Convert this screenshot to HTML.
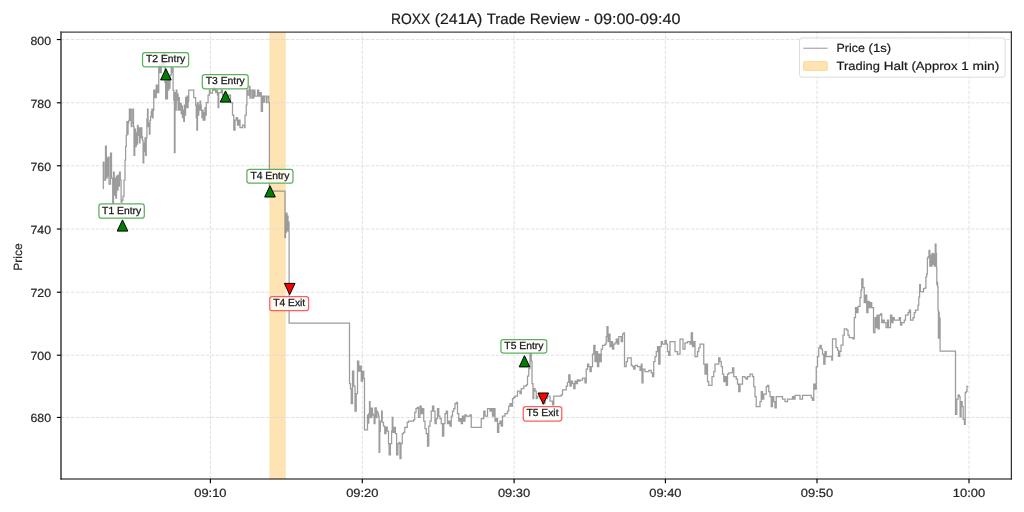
<!DOCTYPE html>
<html><head><meta charset="utf-8"><style>
html,body{margin:0;padding:0;background:#fff;width:1024px;height:512px;overflow:hidden}
svg{display:block;font-family:"Liberation Sans",sans-serif;will-change:transform;text-rendering:geometricPrecision}
</style></head><body>
<svg width="1024" height="512" viewBox="0 0 1024 512">
<rect x="0" y="0" width="1024" height="512" fill="#fff"/>
<rect x="269.4" y="32.1" width="16.4" height="446.9" fill="#ffe4b3"/>
<line x1="210.4" y1="479.0" x2="210.4" y2="32.1" stroke="#d9d9d9" stroke-width="0.8" stroke-dasharray="3.5 1.5"/>
<line x1="362.3" y1="479.0" x2="362.3" y2="32.1" stroke="#d9d9d9" stroke-width="0.8" stroke-dasharray="3.5 1.5"/>
<line x1="514.1" y1="479.0" x2="514.1" y2="32.1" stroke="#d9d9d9" stroke-width="0.8" stroke-dasharray="3.5 1.5"/>
<line x1="665.4" y1="479.0" x2="665.4" y2="32.1" stroke="#d9d9d9" stroke-width="0.8" stroke-dasharray="3.5 1.5"/>
<line x1="817.0" y1="479.0" x2="817.0" y2="32.1" stroke="#d9d9d9" stroke-width="0.8" stroke-dasharray="3.5 1.5"/>
<line x1="969.0" y1="479.0" x2="969.0" y2="32.1" stroke="#d9d9d9" stroke-width="0.8" stroke-dasharray="3.5 1.5"/>
<line x1="61.0" y1="39.55" x2="1011.35" y2="39.55" stroke="#d9d9d9" stroke-width="0.8" stroke-dasharray="3.5 1.5"/>
<line x1="61.0" y1="102.80" x2="1011.35" y2="102.80" stroke="#d9d9d9" stroke-width="0.8" stroke-dasharray="3.5 1.5"/>
<line x1="61.0" y1="165.80" x2="1011.35" y2="165.80" stroke="#d9d9d9" stroke-width="0.8" stroke-dasharray="3.5 1.5"/>
<line x1="61.0" y1="229.00" x2="1011.35" y2="229.00" stroke="#d9d9d9" stroke-width="0.8" stroke-dasharray="3.5 1.5"/>
<line x1="61.0" y1="292.20" x2="1011.35" y2="292.20" stroke="#d9d9d9" stroke-width="0.8" stroke-dasharray="3.5 1.5"/>
<line x1="61.0" y1="355.20" x2="1011.35" y2="355.20" stroke="#d9d9d9" stroke-width="0.8" stroke-dasharray="3.5 1.5"/>
<line x1="61.0" y1="417.45" x2="1011.35" y2="417.45" stroke="#d9d9d9" stroke-width="0.8" stroke-dasharray="3.5 1.5"/>
<path d="M103.00 188.50H103.30V162.00H104.00V180.00H105.50V146.00H106.30V178.00H107.00V158.00H107.60V176.00H108.20V157.00H109.00V184.00H110.50V153.00H111.50V178.00H112.70V203.00H113.50V172.00H114.20V195.00H115.00V178.00H115.80V198.00H116.50V176.00H117.30V190.00H118.00V175.00H118.80V186.00H119.50V172.00H120.30V180.00H121.10V202.00H122.00V200.00H123.00V196.00H124.00V180.00H125.00V160.00H125.60V146.50H126.25V135.25H126.90V121.50H127.50V134.00H128.10V122.75H128.75V120.25H129.40V109.00H130.00V120.25H130.60V109.00H131.25V126.50H131.90V122.75H132.75V109.00H133.50V126.50H134.00V155.25H134.75V129.00H135.60V146.50H136.25V132.75H136.90V144.00H137.50V125.25H138.10V135.25H138.75V127.75H139.40V142.75H140.00V127.75H140.60V137.75H141.25V127.75H141.90V136.50H142.50V140.25H143.10V162.75H143.75V142.75H144.40V151.50H145.00V137.75H145.60V155.25H146.25V137.75H146.90V119.00H147.50V109.00H148.10V126.50H148.75V122.75H149.40V134.00H150.00V120.25H150.60V116.50H151.25V111.50H151.90V109.00H152.50V117.75H153.10V110.25H153.75V90.00H155.00V97.50H156.25V85.00H157.50V92.50H158.75V65.00H160.00V72.50H161.25V55.00H162.50V65.00H163.75V52.50H165.00V82.50H165.60V98.75H166.25V81.00H166.90V98.75H167.50V80.00H168.10V90.00H168.75V80.00H169.40V88.00H170.00V75.00H171.25V67.50H172.00V72.50H172.50V68.00H173.10V90.00H173.75V100.00H174.40V152.50H175.00V92.50H175.60V110.00H176.25V90.00H176.90V100.00H177.50V93.75H178.10V110.00H178.75V97.50H179.40V110.00H180.00V103.00H180.60V103.75H181.25V113.75H181.90V106.00H182.50V117.50H183.10V110.00H183.75V121.25H184.40V105.00H185.00V115.00H185.60V97.50H186.25V107.50H186.90V96.00H187.50V107.50H188.10V101.00H188.75V90.00H193.10V90.00H193.75V97.50H195.00V97.50H195.60V105.00H196.25V117.50H196.90V130.00H197.50V102.50H198.10V115.00H198.75V105.00H199.40V110.00H200.00V101.00H200.60V105.00H201.25V110.00H201.90V117.50H202.50V110.00H203.10V120.00H203.75V112.50H204.40V120.00H205.00V107.50H205.60V115.00H206.25V102.50H207.00V102.50H208.10V95.00H209.40V90.00H210.00V93.00H212.50V90.00H213.75V87.50H215.00V90.00H215.60V92.50H216.90V90.00H217.50V95.00H218.10V107.50H218.75V92.50H220.00V92.50H221.25V90.00H222.50V95.00H225.00V97.50H228.75V95.00H230.50V102.50H232.50V115.00H233.75V130.00H235.00V120.00H236.25V117.50H237.50V125.00H238.75V120.00H240.00V127.50H242.50V125.00H244.40V127.50H245.00V115.00H246.25V105.00H246.90V90.00H248.00V95.00H249.40V86.25H250.00V98.00H251.00V90.00H252.50V98.00H253.75V90.00H255.00V96.00H257.50V90.00H258.75V96.00H260.00V92.50H261.25V111.25H262.50V96.00H263.50V102.00H264.40V96.00H266.25V102.50H267.00V97.00H268.10V96.00H268.75V102.50H269.40V102.50H269.40V191.00H285.00V191.00H285.00V237.50H285.50V214.00H286.00V232.00H286.50V213.00H287.00V230.00H287.50V216.00H288.00V231.00H288.50V222.00H289.00V232.00H289.10V323.10H349.10V323.10H349.50V383.50H350.50V388.50H351.25V403.50H352.50V371.00H353.75V386.00H355.00V411.00H356.25V393.50H357.50V361.00H358.75V371.00H360.00V366.00H361.25V381.00H362.50V371.00H363.75V378.50H364.50V429.75H367.25V429.75H367.50V415.00H368.00V423.00H368.75V413.50H369.50V401.60H370.10V417.50H370.60V408.00H371.25V417.00H371.90V408.00H372.50V414.00H373.10V415.00H374.10V423.50H375.00V408.00H375.40V407.90H376.25V417.50H376.90V411.00H377.50V413.00H378.50V416.00H379.10V452.25H379.75V431.00H380.40V421.00H381.60V411.00H382.25V422.25H383.50V426.00H384.75V433.50H386.00V427.00H387.25V431.00H388.50V443.50H389.10V454.75H390.40V443.50H391.60V431.00H392.25V417.25H392.90V432.25H394.10V427.25H395.40V433.50H396.60V454.75H397.90V443.50H399.10V442.25H400.00V458.50H401.00V443.50H402.25V433.50H403.50V432.25H404.75V427.25H406.00V427.25H407.25V422.25H408.50V421.00H411.00V421.00H413.50V419.75H414.75V412.25H416.00V408.50H417.25V407.25H418.50V417.25H420.00V406.00H421.25V413.50H422.50V408.50H423.75V421.00H425.00V428.50H426.25V433.50H427.50V446.00H428.75V426.00H430.00V421.00H431.25V411.00H432.50V406.00H433.75V411.00H435.00V423.50H436.25V418.50H437.50V408.50H438.75V416.00H440.00V418.50H441.25V423.50H442.50V436.00H443.75V423.50H445.00V413.50H446.25V411.00H447.50V423.50H448.75V421.00H450.00V426.00H451.25V416.00H452.50V411.00H453.75V408.50H455.00V403.50H456.25V402.25H457.50V413.50H458.75V421.00H460.00V418.50H461.25V423.50H462.50V416.00H463.75V421.00H465.00V414.75H466.25V416.00H470.00V414.75H471.25V427.25H480.00V427.25H481.25V418.50H483.75V411.00H485.00V416.00H487.50V408.50H490.00V411.00H491.25V408.50H492.50V416.00H493.75V408.50H495.00V421.00H496.25V418.50H497.50V432.25H498.75V423.50H500.00V421.00H501.25V426.00H502.50V416.00H505.00V413.50H507.50V411.00H508.75V406.00H510.00V403.50H511.25V406.00H512.50V398.50H513.75V397.25H515.00V396.00H517.50V391.00H520.00V393.50H521.25V388.50H523.75V386.00H526.25V384.75H527.50V376.00H528.75V368.50H530.00V353.50H531.25V361.00H532.00V383.50H533.00V398.50H533.75V388.50H535.00V391.00H536.25V398.50H537.50V396.00H540.00V398.50H542.50V403.50H545.00V398.50H547.50V396.00H550.00V401.00H552.50V404.75H553.75V396.00H555.00V396.00H561.25V394.75H562.50V389.75H565.00V389.75H566.25V386.00H567.50V382.25H568.75V374.75H570.00V386.00H571.25V381.00H572.50V383.50H573.75V388.50H575.00V381.00H576.25V383.50H577.50V379.75H578.75V381.00H580.00V380.00H582.50V378.00H585.00V382.75H586.25V369.00H587.50V364.00H588.75V366.50H590.00V371.50H591.25V366.50H592.50V354.00H593.75V345.25H595.00V361.50H596.25V351.50H597.50V366.50H598.75V354.00H600.00V361.50H601.25V349.00H602.50V345.25H605.00V344.00H606.25V336.50H607.00V326.50H608.00V341.50H608.75V334.00H610.00V346.50H611.25V341.50H612.50V349.00H613.75V344.00H615.00V342.75H616.25V339.00H617.50V344.00H618.75V336.50H621.25V341.50H622.50V334.00H623.75V332.75H624.50V366.50H626.25V361.50H627.50V357.75H630.00V357.75H631.25V365.25H632.50V366.50H633.75V369.00H635.00V365.25H637.50V366.50H640.00V370.25H641.25V364.00H642.00V382.75H643.00V369.00H645.00V371.50H648.75V370.25H651.25V372.75H652.50V376.50H653.75V361.50H655.00V356.50H656.25V351.50H657.50V346.50H658.75V364.00H660.00V346.50H661.25V341.50H662.50V344.00H665.00V340.25H666.25V344.00H667.50V351.50H668.75V355.25H670.00V341.50H673.75V341.50H675.00V351.50H677.50V354.00H680.00V339.00H682.50V339.00H683.00V349.00H685.00V342.75H687.50V341.50H690.00V344.00H691.25V332.75H692.50V346.50H693.75V341.50H695.00V356.50H697.50V351.50H698.75V347.75H700.00V344.00H702.50V344.00H703.75V364.00H705.00V374.00H706.25V364.00H707.50V381.50H708.75V385.25H711.25V385.25H712.00V376.50H713.75V371.50H715.00V364.00H717.50V364.00H718.75V357.75H720.00V361.50H721.25V366.50H722.50V374.00H723.75V381.50H725.00V376.50H726.25V385.25H727.50V374.00H728.75V372.75H731.25V372.75H732.50V367.75H733.75V376.50H736.25V379.00H737.50V384.00H738.75V391.50H740.00V384.00H742.50V376.50H745.00V377.75H746.25V379.00H747.50V376.50H750.00V374.00H751.25V374.00H752.50V376.50H753.75V386.50H755.00V396.50H756.25V406.50H758.75V406.50H760.00V401.50H761.25V391.50H762.50V399.00H763.75V394.00H766.25V386.50H767.50V385.25H768.75V391.50H770.00V396.50H771.25V406.50H772.50V396.50H773.75V401.50H775.00V407.75H776.25V396.50H780.00V396.50H782.50V399.00H785.00V401.50H787.50V399.00H792.50V396.50H793.75V399.00H795.00V395.25H800.00V399.00H802.50V395.25H811.25V397.75H812.50V400.25H813.75V384.00H815.00V389.00H816.25V366.50H817.50V356.50H818.75V347.75H820.00V345.25H821.25V349.00H822.50V354.00H823.75V364.00H825.00V351.50H826.25V356.50H827.50V356.50H830.00V356.25H831.75V360.00H832.50V338.75H835.00V338.75H836.00V347.50H837.50V350.00H838.50V356.25H839.75V351.25H841.00V345.00H843.00V335.00H844.25V328.75H846.75V330.00H848.00V335.00H849.25V337.50H853.00V338.75H854.25V317.50H855.50V307.50H856.75V312.50H858.00V306.25H859.25V306.25H860.00V297.50H861.00V290.00H861.75V278.75H863.00V287.50H864.25V302.50H865.50V295.00H866.75V312.50H868.00V301.25H869.25V307.50H870.50V302.50H871.75V307.50H873.00V307.50H873.50V332.50H875.00V317.50H876.00V327.50H877.00V315.00H878.00V328.75H879.25V315.00H880.50V313.75H881.75V322.50H883.00V320.00H884.25V322.50H886.00V327.50H887.50V320.00H888.50V327.50H890.50V315.00H891.75V322.50H893.00V317.50H894.25V320.00H898.00V320.00H899.25V317.50H900.50V325.00H901.75V322.50H904.25V320.00H905.50V315.00H908.00V312.50H909.25V310.00H910.50V320.00H913.00V317.50H914.25V312.50H915.50V310.00H916.75V310.00H918.00V305.00H918.80V297.20H919.60V284.70H920.40V291.70H922.75V291.70H923.50V288.60H925.00V287.80H925.90V276.90H926.70V273.75H927.40V258.00H928.20V256.60H929.00V250.30H929.80V266.00H930.60V255.00H931.30V266.00H932.10V253.40H932.90V264.40H933.70V254.20H934.50V266.00H935.25V244.00H936.00V253.40H936.50V267.50H936.80V284.70H937.10V282.00H937.60V286.50H938.00V310.00H938.40V338.00H938.80V312.00H939.20V336.00H939.60V318.00H940.10V351.00H955.50V351.00H955.50V414.30H956.80V399.00H958.10V395.20H959.40V396.50H960.10V416.80H961.10V401.60H962.20V406.70H963.20V419.40H964.40V424.40H965.20V392.70H966.20V391.40H967.00V386.30H968.30V386.30" fill="none" stroke="#808080" stroke-opacity="0.78" stroke-width="1.25" stroke-linejoin="miter" stroke-miterlimit="2"/>
<line x1="61.0" y1="31.5" x2="61.0" y2="479.6" stroke="#000" stroke-width="1.15"/>
<line x1="60.4" y1="479.0" x2="1011.95" y2="479.0" stroke="#000" stroke-width="1.15"/>
<line x1="60.4" y1="32.1" x2="1011.95" y2="32.1" stroke="#444" stroke-width="1.15"/>
<line x1="1011.35" y1="31.5" x2="1011.35" y2="479.6" stroke="#222" stroke-width="1.15"/>
<line x1="210.4" y1="479.0" x2="210.4" y2="483.15" stroke="#000" stroke-width="1.15"/>
<text x="210.4" y="496.7" font-size="11.9" text-anchor="middle" fill="#262626" stroke="#262626" stroke-width="0.22" textLength="32.3" lengthAdjust="spacingAndGlyphs">09:10</text>
<line x1="362.3" y1="479.0" x2="362.3" y2="483.15" stroke="#000" stroke-width="1.15"/>
<text x="362.3" y="496.7" font-size="11.9" text-anchor="middle" fill="#262626" stroke="#262626" stroke-width="0.22" textLength="32.3" lengthAdjust="spacingAndGlyphs">09:20</text>
<line x1="514.1" y1="479.0" x2="514.1" y2="483.15" stroke="#000" stroke-width="1.15"/>
<text x="514.1" y="496.7" font-size="11.9" text-anchor="middle" fill="#262626" stroke="#262626" stroke-width="0.22" textLength="32.3" lengthAdjust="spacingAndGlyphs">09:30</text>
<line x1="665.4" y1="479.0" x2="665.4" y2="483.15" stroke="#000" stroke-width="1.15"/>
<text x="665.4" y="496.7" font-size="11.9" text-anchor="middle" fill="#262626" stroke="#262626" stroke-width="0.22" textLength="32.3" lengthAdjust="spacingAndGlyphs">09:40</text>
<line x1="817.0" y1="479.0" x2="817.0" y2="483.15" stroke="#000" stroke-width="1.15"/>
<text x="817.0" y="496.7" font-size="11.9" text-anchor="middle" fill="#262626" stroke="#262626" stroke-width="0.22" textLength="32.3" lengthAdjust="spacingAndGlyphs">09:50</text>
<line x1="969.0" y1="479.0" x2="969.0" y2="483.15" stroke="#000" stroke-width="1.15"/>
<text x="969.0" y="496.7" font-size="11.9" text-anchor="middle" fill="#262626" stroke="#262626" stroke-width="0.22" textLength="32.3" lengthAdjust="spacingAndGlyphs">10:00</text>
<line x1="61.0" y1="39.55" x2="56.85" y2="39.55" stroke="#000" stroke-width="1.15"/>
<text x="51.0" y="44.55" font-size="11.9" text-anchor="end" fill="#262626" stroke="#262626" stroke-width="0.22" textLength="20.5" lengthAdjust="spacingAndGlyphs">800</text>
<line x1="61.0" y1="102.80" x2="56.85" y2="102.80" stroke="#000" stroke-width="1.15"/>
<text x="51.0" y="107.80" font-size="11.9" text-anchor="end" fill="#262626" stroke="#262626" stroke-width="0.22" textLength="20.5" lengthAdjust="spacingAndGlyphs">780</text>
<line x1="61.0" y1="165.80" x2="56.85" y2="165.80" stroke="#000" stroke-width="1.15"/>
<text x="51.0" y="170.80" font-size="11.9" text-anchor="end" fill="#262626" stroke="#262626" stroke-width="0.22" textLength="20.5" lengthAdjust="spacingAndGlyphs">760</text>
<line x1="61.0" y1="229.00" x2="56.85" y2="229.00" stroke="#000" stroke-width="1.15"/>
<text x="51.0" y="234.00" font-size="11.9" text-anchor="end" fill="#262626" stroke="#262626" stroke-width="0.22" textLength="20.5" lengthAdjust="spacingAndGlyphs">740</text>
<line x1="61.0" y1="292.20" x2="56.85" y2="292.20" stroke="#000" stroke-width="1.15"/>
<text x="51.0" y="297.20" font-size="11.9" text-anchor="end" fill="#262626" stroke="#262626" stroke-width="0.22" textLength="20.5" lengthAdjust="spacingAndGlyphs">720</text>
<line x1="61.0" y1="355.20" x2="56.85" y2="355.20" stroke="#000" stroke-width="1.15"/>
<text x="51.0" y="360.20" font-size="11.9" text-anchor="end" fill="#262626" stroke="#262626" stroke-width="0.22" textLength="20.5" lengthAdjust="spacingAndGlyphs">700</text>
<line x1="61.0" y1="417.45" x2="56.85" y2="417.45" stroke="#000" stroke-width="1.15"/>
<text x="51.0" y="422.45" font-size="11.9" text-anchor="end" fill="#262626" stroke="#262626" stroke-width="0.22" textLength="20.5" lengthAdjust="spacingAndGlyphs">680</text>
<text transform="translate(22.3,257) rotate(-90)" x="0" y="0" font-size="11.9" text-anchor="middle" fill="#262626" stroke="#262626" stroke-width="0.2" textLength="27.3" lengthAdjust="spacingAndGlyphs">Price</text>
<text x="391.00" y="24.30" font-size="15.0" fill="#1a1a1a" stroke="#1a1a1a" stroke-width="0.2" textLength="39.28" lengthAdjust="spacingAndGlyphs">ROXX</text>
<text x="434.76" y="24.30" font-size="15.0" fill="#1a1a1a" stroke="#1a1a1a" stroke-width="0.2" textLength="47.52" lengthAdjust="spacingAndGlyphs">(241A)</text>
<text x="486.71" y="24.30" font-size="15.0" fill="#1a1a1a" stroke="#1a1a1a" stroke-width="0.2" textLength="38.62" lengthAdjust="spacingAndGlyphs">Trade</text>
<text x="529.80" y="24.30" font-size="15.0" fill="#1a1a1a" stroke="#1a1a1a" stroke-width="0.2" textLength="50.27" lengthAdjust="spacingAndGlyphs">Review</text>
<text x="584.55" y="24.30" font-size="15.0" fill="#1a1a1a" stroke="#1a1a1a" stroke-width="0.2" textLength="5.09" lengthAdjust="spacingAndGlyphs">-</text>
<text x="594.11" y="24.30" font-size="15.0" fill="#1a1a1a" stroke="#1a1a1a" stroke-width="0.2" textLength="86.29" lengthAdjust="spacingAndGlyphs">09:00-09:40</text>
<rect x="98.90" y="203.90" width="45.40" height="14.30" rx="2.5" ry="2.5" fill="#fff" fill-opacity="0.8" stroke="#5cb05c" stroke-width="1.25"/>
<text x="121.60" y="213.55" font-size="10.2" text-anchor="middle" fill="#1a1a1a" stroke="#1a1a1a" stroke-width="0.28" textLength="39.0" lengthAdjust="spacingAndGlyphs">T1 Entry</text>
<rect x="142.55" y="52.60" width="46.05" height="14.15" rx="2.5" ry="2.5" fill="#fff" fill-opacity="0.8" stroke="#5cb05c" stroke-width="1.25"/>
<text x="165.57" y="62.17" font-size="10.2" text-anchor="middle" fill="#1a1a1a" stroke="#1a1a1a" stroke-width="0.28" textLength="39.0" lengthAdjust="spacingAndGlyphs">T2 Entry</text>
<rect x="202.30" y="74.60" width="45.90" height="14.15" rx="2.5" ry="2.5" fill="#fff" fill-opacity="0.8" stroke="#5cb05c" stroke-width="1.25"/>
<text x="225.25" y="84.17" font-size="10.2" text-anchor="middle" fill="#1a1a1a" stroke="#1a1a1a" stroke-width="0.28" textLength="39.0" lengthAdjust="spacingAndGlyphs">T3 Entry</text>
<rect x="246.90" y="169.40" width="46.10" height="13.80" rx="2.5" ry="2.5" fill="#fff" fill-opacity="0.8" stroke="#5cb05c" stroke-width="1.25"/>
<text x="269.95" y="178.80" font-size="10.2" text-anchor="middle" fill="#1a1a1a" stroke="#1a1a1a" stroke-width="0.28" textLength="39.0" lengthAdjust="spacingAndGlyphs">T4 Entry</text>
<rect x="269.75" y="296.70" width="38.85" height="14.00" rx="2.5" ry="2.5" fill="#fff" fill-opacity="0.8" stroke="#ff5c5c" stroke-width="1.25"/>
<text x="289.18" y="306.20" font-size="10.2" text-anchor="middle" fill="#1a1a1a" stroke="#1a1a1a" stroke-width="0.28" textLength="32.0" lengthAdjust="spacingAndGlyphs">T4 Exit</text>
<rect x="500.90" y="339.60" width="45.90" height="13.40" rx="2.5" ry="2.5" fill="#fff" fill-opacity="0.8" stroke="#5cb05c" stroke-width="1.25"/>
<text x="523.85" y="348.80" font-size="10.2" text-anchor="middle" fill="#1a1a1a" stroke="#1a1a1a" stroke-width="0.28" textLength="39.0" lengthAdjust="spacingAndGlyphs">T5 Entry</text>
<rect x="523.25" y="406.70" width="38.55" height="14.30" rx="2.5" ry="2.5" fill="#fff" fill-opacity="0.8" stroke="#ff5c5c" stroke-width="1.25"/>
<text x="542.52" y="416.35" font-size="10.2" text-anchor="middle" fill="#1a1a1a" stroke="#1a1a1a" stroke-width="0.28" textLength="32.0" lengthAdjust="spacingAndGlyphs">T5 Exit</text>
<polygon points="122.50,219.90 117.20,231.10 127.80,231.10" fill="#008000" stroke="#000" stroke-width="1" stroke-linejoin="miter"/>
<polygon points="165.90,68.70 160.60,79.90 171.20,79.90" fill="#008000" stroke="#000" stroke-width="1" stroke-linejoin="miter"/>
<polygon points="225.50,90.90 220.20,102.10 230.80,102.10" fill="#008000" stroke="#000" stroke-width="1" stroke-linejoin="miter"/>
<polygon points="270.00,185.80 264.70,197.00 275.30,197.00" fill="#008000" stroke="#000" stroke-width="1" stroke-linejoin="miter"/>
<polygon points="289.70,294.60 284.40,283.40 295.00,283.40" fill="#ff0000" stroke="#000" stroke-width="1" stroke-linejoin="miter"/>
<polygon points="524.50,355.70 519.20,366.90 529.80,366.90" fill="#008000" stroke="#000" stroke-width="1" stroke-linejoin="miter"/>
<polygon points="543.30,404.20 538.00,393.00 548.60,393.00" fill="#ff0000" stroke="#000" stroke-width="1" stroke-linejoin="miter"/>
<rect x="799.5" y="37.9" width="205.6" height="39.3" rx="2.5" ry="2.5" fill="#fff" fill-opacity="0.8" stroke="#dcdcdc" stroke-width="1"/>
<line x1="803.3" y1="48.25" x2="827.5" y2="48.25" stroke="#808080" stroke-opacity="0.7" stroke-width="1.2"/>
<rect x="803.6" y="61.6" width="23.7" height="8.8" rx="0.8" fill="#ffe4b3" stroke="#ffd491" stroke-width="0.9"/>
<text x="836.60" y="52.20" font-size="11.9" fill="#1a1a1a" stroke="#1a1a1a" stroke-width="0.2" textLength="28.29" lengthAdjust="spacingAndGlyphs">Price</text>
<text x="868.59" y="52.20" font-size="11.9" fill="#1a1a1a" stroke="#1a1a1a" stroke-width="0.2" textLength="22.48" lengthAdjust="spacingAndGlyphs">(1s)</text>
<text x="836.60" y="69.80" font-size="11.9" fill="#1a1a1a" stroke="#1a1a1a" stroke-width="0.2" textLength="43.33" lengthAdjust="spacingAndGlyphs">Trading</text>
<text x="883.68" y="69.80" font-size="11.9" fill="#1a1a1a" stroke="#1a1a1a" stroke-width="0.2" textLength="24.01" lengthAdjust="spacingAndGlyphs">Halt</text>
<text x="911.44" y="69.80" font-size="11.9" fill="#1a1a1a" stroke="#1a1a1a" stroke-width="0.2" textLength="46.09" lengthAdjust="spacingAndGlyphs">(Approx</text>
<text x="961.28" y="69.80" font-size="11.9" fill="#1a1a1a" stroke="#1a1a1a" stroke-width="0.2" textLength="7.50" lengthAdjust="spacingAndGlyphs">1</text>
<text x="972.54" y="69.80" font-size="11.9" fill="#1a1a1a" stroke="#1a1a1a" stroke-width="0.2" textLength="26.86" lengthAdjust="spacingAndGlyphs">min)</text>
</svg>
</body></html>
